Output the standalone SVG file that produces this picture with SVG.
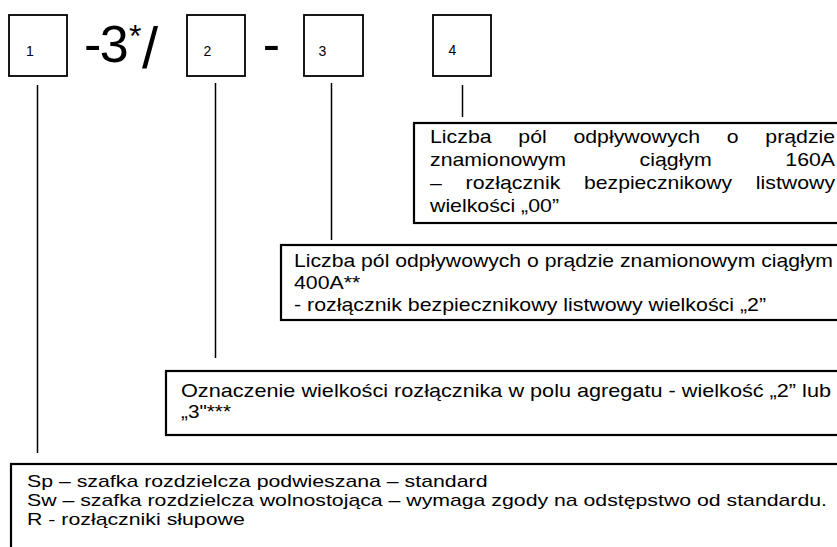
<svg xmlns="http://www.w3.org/2000/svg" width="837" height="547" viewBox="0 0 837 547">
<style>
.b{fill:#fff;stroke:#000;stroke-width:1.8}
.tb{fill:#fff;stroke:#000;stroke-width:2.2}
.c{stroke:#000;stroke-width:1.5;fill:none}
text{font-family:"Liberation Sans",Arial,sans-serif;fill:#000}
.t{font-size:19px}
.s{font-size:17px}
.n{font-size:14px}
.big{font-size:52px}
</style>
<rect width="837" height="547" fill="#fff"/>
<g id="connectors">
<path class="c" d="M37.5 85V453"/>
<path class="c" d="M215.5 83V358"/>
<path class="c" d="M331.5 83V240"/>
<path class="c" d="M462.5 85V117"/>
</g>
<g id="code-1"><rect class="b" x="9" y="15" width="58" height="61"/><text class="n" x="26" y="56">1</text></g>
<g id="code-sep-1"><text class="big" x="84" y="62">-</text><text class="big" x="99.8" y="62">3</text><text x="129" y="47" style="font-size:32px">*</text><text x="142" y="68" style="font-size:58px">/</text></g>
<g id="code-2"><rect class="b" x="187" y="15" width="58" height="61"/><text class="n" x="203.5" y="56">2</text></g>
<g id="code-sep-2"><text class="big" x="262.7" y="62">-</text></g>
<g id="code-3"><rect class="b" x="304" y="15" width="59" height="61"/><text class="n" x="318.5" y="56">3</text></g>
<g id="code-4"><rect class="b" x="433" y="15" width="58" height="61"/><text class="n" x="448.6" y="55">4</text></g>
<g id="desc-4">
<rect class="tb" x="414" y="123" width="500" height="100"/>
<g class="t">
<text x="430" y="143" textLength="61.6" lengthAdjust="spacingAndGlyphs">Liczba</text>
<text x="518.3" y="143" textLength="28.4" lengthAdjust="spacingAndGlyphs">pól</text>
<text x="573.4" y="143" textLength="126.7" lengthAdjust="spacingAndGlyphs">odpływowych</text>
<text x="726.8" y="143" textLength="11.8" lengthAdjust="spacingAndGlyphs">o</text>
<text x="765.3" y="143" textLength="69.8" lengthAdjust="spacingAndGlyphs">prądzie</text>
<text x="430" y="166" textLength="136.1" lengthAdjust="spacingAndGlyphs">znamionowym</text>
<text x="639.6" y="166" textLength="72.2" lengthAdjust="spacingAndGlyphs">ciągłym</text>
<text x="785.3" y="166" textLength="49.7" lengthAdjust="spacingAndGlyphs">160A</text>
<text x="430" y="189" textLength="11.8" lengthAdjust="spacingAndGlyphs">–</text>
<text x="465.6" y="189" textLength="94.7" lengthAdjust="spacingAndGlyphs">rozłącznik</text>
<text x="584.1" y="189" textLength="147.9" lengthAdjust="spacingAndGlyphs">bezpiecznikowy</text>
<text x="755.8" y="189" textLength="79.3" lengthAdjust="spacingAndGlyphs">listwowy</text>
<text x="430" y="212" textLength="129" lengthAdjust="spacingAndGlyphs">wielkości „00”</text>
</g>
</g>
<g id="desc-3">
<rect class="tb" x="281" y="245" width="600" height="75"/>
<g class="t">
<text x="294" y="267" textLength="539" lengthAdjust="spacingAndGlyphs">Liczba pól odpływowych o prądzie znamionowym ciągłym</text>
<text x="294" y="289" textLength="66.3" lengthAdjust="spacingAndGlyphs">400A**</text>
<text x="294" y="311" textLength="472" lengthAdjust="spacingAndGlyphs">- rozłącznik bezpiecznikowy listwowy wielkości „2”</text>
</g>
</g>
<g id="desc-2">
<rect class="tb" x="166" y="371" width="700" height="64"/>
<g class="t">
<text x="181" y="397" textLength="650" lengthAdjust="spacingAndGlyphs">Oznaczenie wielkości rozłącznika w polu agregatu - wielkość „2” lub</text>
<text x="181" y="418" textLength="50" lengthAdjust="spacingAndGlyphs">„3"***</text>
</g>
</g>
<g id="desc-1">
<rect class="tb" x="11" y="464" width="840" height="100"/>
<g class="s">
<text x="27" y="487" textLength="460.5" lengthAdjust="spacingAndGlyphs">Sp – szafka rozdzielcza podwieszana – standard</text>
<text x="27" y="506" textLength="800" lengthAdjust="spacingAndGlyphs">Sw – szafka rozdzielcza wolnostojąca – wymaga zgody na odstępstwo od standardu.</text>
<text x="27" y="525" textLength="217.8" lengthAdjust="spacingAndGlyphs">R - rozłączniki słupowe</text>
</g>
</g>
</svg>
